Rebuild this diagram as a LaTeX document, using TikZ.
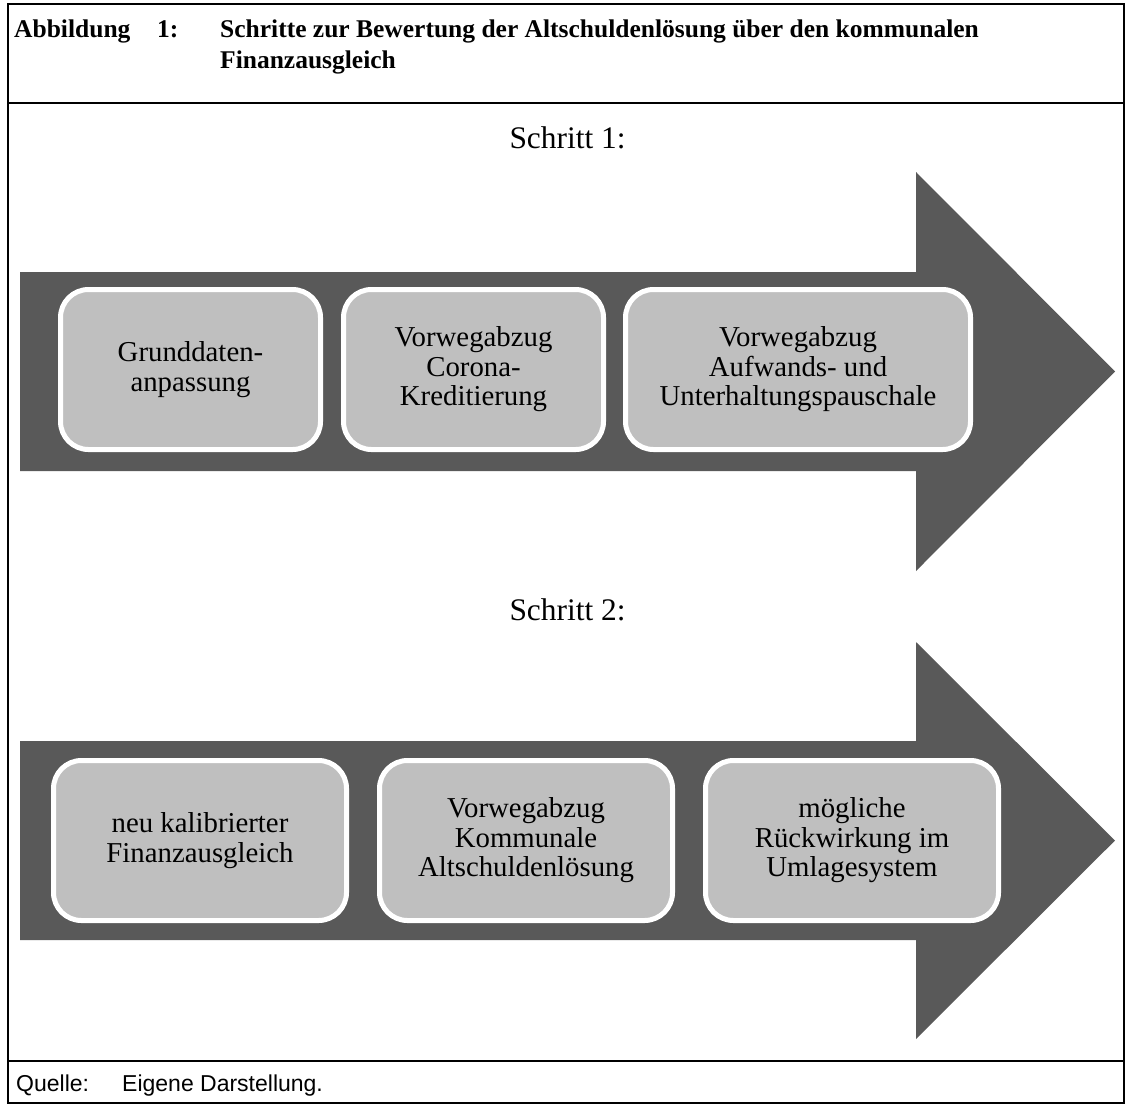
\documentclass[tikz,border=0pt]{standalone}
\usepackage{fontspec}
\setmainfont{Liberation Serif}
\newfontfamily\arialf{Liberation Sans}
\definecolor{arrowgray}{HTML}{595959}
\definecolor{boxgray}{HTML}{BFBFBF}
\begin{document}
\begin{tikzpicture}[x=1pt,y=-1pt,
  frameline/.style={line width=2pt,black},
  bigarrow/.style={fill=arrowgray,draw=none},
  stepbox/.style={rectangle,rounded corners=28pt,fill=boxgray,draw=white,line width=5pt,
    minimum height=160pt,inner sep=0pt,align=center,font=\fontsize{28.8}{29.5}\selectfont},
  steplabel/.style={font=\fontsize{31.4}{34}\selectfont,inner sep=0pt},
  titletext/.style={font=\fontsize{25.5}{30}\selectfont\bfseries,inner sep=0pt,anchor=base west},
  foottext/.style={font=\arialf\fontsize{23}{27}\selectfont,inner sep=0pt,anchor=base west}]
\useasboundingbox (0,0) rectangle (1125,1104);
\fill[white] (0,0) rectangle (1125,1104);
% frame
\draw[frameline] (8,4) rectangle (1124,1103);
\draw[frameline] (8,103) -- (1124,103);
\draw[frameline] (8,1061) -- (1124,1061);
% title
\node[titletext] (t1) at (14,37) {Abbildung};
\node[titletext] (t2) at (157,37) {1:};
\node[titletext] (t3) at (220,37) {Schritte zur Bewertung der Altschuldenlösung über den kommunalen};
\node[titletext] (t4) at (220,68) {Finanzausgleich};
% arrows
\fill[bigarrow] (20,272) -- (916,272) -- (916,172) -- (1115,371.5) -- (916,571) -- (916,471) -- (20,471) -- cycle;
\fill[bigarrow] (20,741) -- (916,741) -- (916,642) -- (1115,840.5) -- (916,1039) -- (916,940) -- (20,940) -- cycle;
% step labels
\node[steplabel] (s1) at (567.5,138) {Schritt 1:};
\node[steplabel] (s2) at (567.5,610) {Schritt 2:};
% row 1 boxes
\node[stepbox,minimum width=260pt] (a1) at (190.5,369.5) {Grunddaten-\\anpassung};
\node[stepbox,minimum width=260pt] (a2) at (473.5,369.5) {Vorwegabzug\\Corona-\\Kreditierung};
\node[stepbox,minimum width=345pt] (a3) at (798,369.5) {Vorwegabzug\\Aufwands- und\\Unterhaltungspauschale};
% row 2 boxes
\node[stepbox,minimum width=293pt] (b1) at (200,840.5) {neu kalibrierter\\Finanzausgleich};
\node[stepbox,minimum width=293pt] (b2) at (526,840.5) {Vorwegabzug\\Kommunale\\Altschuldenlösung};
\node[stepbox,minimum width=293pt] (b3) at (852,840.5) {mögliche\\Rückwirkung im\\Umlagesystem};
% footer
\node[foottext] (q1) at (16,1091) {Quelle:};
\node[foottext] (q2) at (122,1091) {Eigene Darstellung.};
\end{tikzpicture}
\end{document}
